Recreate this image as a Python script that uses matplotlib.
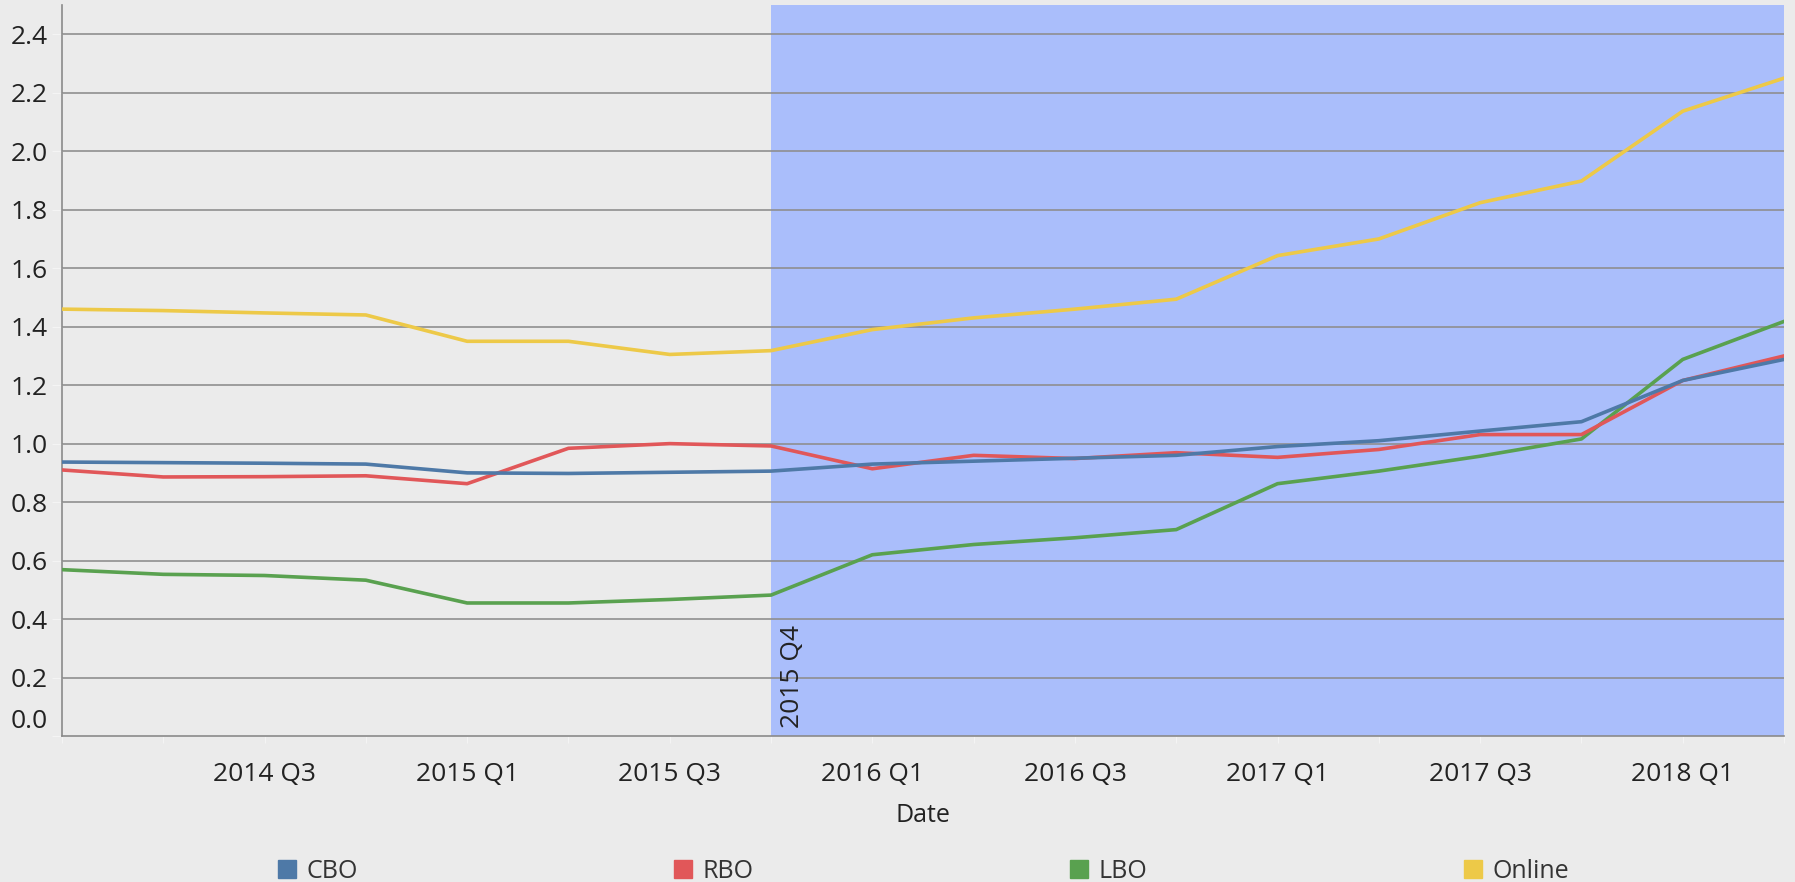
import matplotlib
matplotlib.use("Agg")
import matplotlib.pyplot as plt
from matplotlib.lines import Line2D
from matplotlib.transforms import ScaledTranslation

plt.rcParams['font.family'] = ['Open Sans', 'DejaVu Sans']

# quarters from 2014 Q1 to 2018 Q2
quarters = ['2014 Q1', '2014 Q2', '2014 Q3', '2014 Q4',
            '2015 Q1', '2015 Q2', '2015 Q3', '2015 Q4',
            '2016 Q1', '2016 Q2', '2016 Q3', '2016 Q4',
            '2017 Q1', '2017 Q2', '2017 Q3', '2017 Q4',
            '2018 Q1', '2018 Q2']

cbo = [0.937, 0.935, 0.933, 0.930, 0.900, 0.898, 0.902, 0.906, 0.930,
       0.940, 0.950, 0.960, 0.990, 1.010, 1.043, 1.075, 1.216, 1.288]
rbo = [0.910, 0.886, 0.887, 0.890, 0.863, 0.984, 1.000, 0.992, 0.914,
       0.960, 0.949, 0.969, 0.953, 0.980, 1.031, 1.031, 1.216, 1.300]
lbo = [0.569, 0.553, 0.549, 0.533, 0.455, 0.455, 0.467, 0.482, 0.620,
       0.655, 0.678, 0.706, 0.863, 0.906, 0.957, 1.016, 1.288, 1.418]
online = [1.460, 1.455, 1.447, 1.440, 1.350, 1.350, 1.305, 1.318, 1.390,
          1.430, 1.460, 1.494, 1.643, 1.700, 1.824, 1.898, 2.137, 2.250]

series_names = ['CBO', 'RBO', 'LBO', 'Online']
colors = ['#4E79A7', '#E15759', '#59A14F', '#EDC948']
highlight_start = '2015 Q4'

y_ticks = [0.0, 0.2, 0.4, 0.6, 0.8, 1.0, 1.2, 1.4, 1.6, 1.8, 2.0, 2.2, 2.4]

bg = '#EBEBEB'
txt = '#222222'

fig = plt.figure(figsize=(17.95, 8.82), dpi=100, facecolor=bg)
ax = fig.add_axes([0.0345, 0.1655, 0.9594, 0.8288])
ax.set_facecolor(bg)

x = list(range(len(quarters)))
hs = quarters.index(highlight_start)
ax.axvspan(hs, x[-1], color='#AABEFB', zorder=0, lw=0)

for yv in y_ticks[1:]:
    ax.axhline(yv, color='#8f8f8f', lw=1.2, zorder=1)

# draw order so that CBO ends on top
data = [cbo, rbo, lbo, online]
for i in [3, 2, 1, 0]:
    ax.plot(x, data[i], color=colors[i], lw=2.6, zorder=3 + (3 - i),
            solid_joinstyle='round')

ax.set_xlim(0, x[-1])
ax.set_ylim(0, 2.5)

ax.set_xticks(x)
ax.set_xticklabels([q if (i >= 2 and i % 2 == 0) else '' for i, q in enumerate(quarters)])
ax.set_yticks(y_ticks)
ax.set_yticklabels(['%.1f' % v for v in y_ticks])
ax.tick_params(axis='x', length=5, color='#f4f4f4', pad=14, labelsize=19, labelcolor=txt)
ax.tick_params(axis='y', length=7, color='#f4f4f4', pad=3, labelsize=19, labelcolor=txt)

# the 0.0 label sits a bit above the axis line
lab0 = ax.get_yticklabels()[0]
lab0.set_transform(lab0.get_transform() + ScaledTranslation(0, 0.18, fig.dpi_scale_trans))

for s in ['top', 'right']:
    ax.spines[s].set_visible(False)
for s in ['left', 'bottom']:
    ax.spines[s].set_color('#8a8a8a')
    ax.spines[s].set_linewidth(1.2)

ax.set_xlabel('Date', fontsize=18, color=txt, labelpad=11)

ax.annotate(highlight_start, xy=(hs, 0), xytext=(9, 8), textcoords='offset pixels',
            rotation=90, ha='left', va='bottom', fontsize=19, color=txt, zorder=10)

handles = [Line2D([], [], marker='s', linestyle='none', markersize=13,
                  markerfacecolor=c, markeredgecolor=c) for c in colors]
fig.legend(handles, series_names, loc='center left', bbox_to_anchor=(0.1471, 0.0124),
           ncol=4, frameon=False, fontsize=18, borderpad=0, handlelength=0.8,
           handletextpad=0.4, columnspacing=12.6, labelcolor='#333333')

fig.savefig('out.png', dpi=100, facecolor=bg)
